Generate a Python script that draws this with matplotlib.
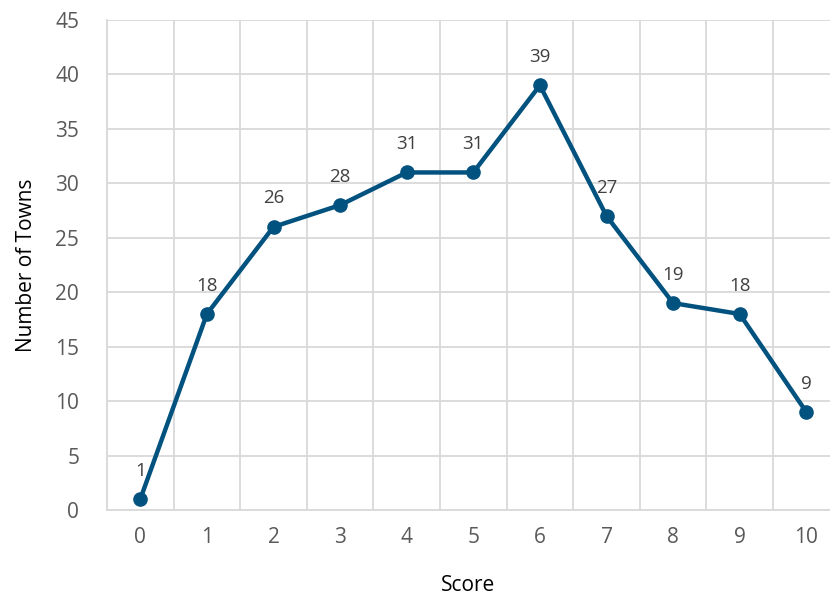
import matplotlib.pyplot as plt
from matplotlib.ticker import MultipleLocator, FixedLocator

scores = list(range(11))
towns = [1, 18, 26, 28, 31, 31, 39, 27, 19, 18, 9]

LINE = '#02527f'
GRID = '#d9d9d9'
TICK = '#595959'

plt.rcParams['font.family'] = ['Open Sans', 'DejaVu Sans']

fig = plt.figure(figsize=(8.3, 6), dpi=100)
ax = fig.add_axes([107 / 830, 90 / 600, 723 / 830, 490 / 600])

ax.plot(scores, towns, color=LINE, lw=3.2, marker='o', ms=9.5,
        solid_joinstyle='round', zorder=3, clip_on=False)

for x, y in zip(scores, towns):
    ax.annotate(str(y), (x, y), xytext=(0, 14), textcoords='offset points',
                ha='center', va='bottom', fontsize=13.5, color='#404040')

ax.set_xlim(-0.5, -0.5 + 723 / 66.6)
ax.set_ylim(0, 45)
ax.set_xticks(scores)
ax.xaxis.set_minor_locator(FixedLocator([s + 0.5 for s in range(-1, 11)]))
ax.yaxis.set_major_locator(MultipleLocator(5))

ax.grid(True, which='minor', axis='x', color=GRID, lw=1.3)
ax.grid(True, which='major', axis='y', color=GRID, lw=1.3)
ax.set_axisbelow(True)

for side in ['top', 'right']:
    ax.spines[side].set_visible(False)
for side in ['left', 'bottom']:
    ax.spines[side].set_color(GRID)
    ax.spines[side].set_linewidth(1.3)

ax.tick_params(which='both', length=0, labelsize=15, colors=TICK)
ax.tick_params(axis='x', pad=12)
ax.tick_params(axis='y', pad=20)

ax.set_xlabel('Score', fontsize=15, color='black', labelpad=20)
ax.set_ylabel('Number of Towns', fontsize=15, color='black', labelpad=13)

fig.savefig('out.png', dpi=100)
